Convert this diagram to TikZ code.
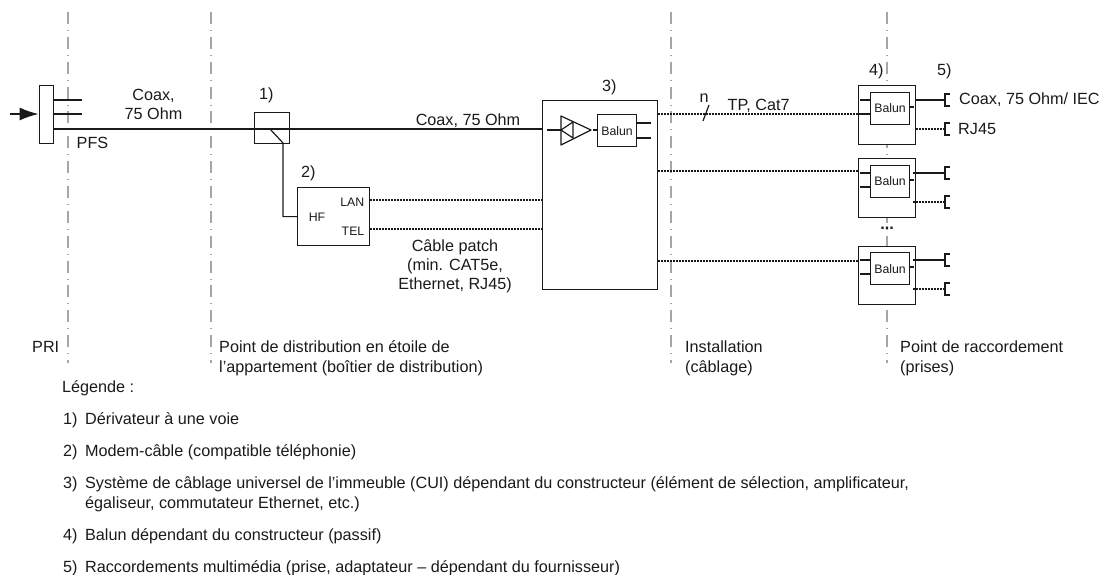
\documentclass[tikz,border=0pt]{standalone}
\usepackage{fontspec}
\setmainfont{Liberation Sans}
\usepackage{xcolor}
\usetikzlibrary{arrows.meta,positioning,calc}
\definecolor{axisGrey}{HTML}{A6A6A6}
\definecolor{wireBlack}{HTML}{1A1A1A}
\newcommand{\legnum}[1]{\makebox[22pt][l]{#1}}

\begin{document}
\begin{tikzpicture}[
  x=1pt,y=-1pt,
  box/.style={rectangle,draw=wireBlack,fill=white,line width=1.2pt,inner sep=0pt,anchor=north west},
  balun/.style={box,minimum width=39pt,minimum height=32pt,font=\fontsize{12.3}{14}\selectfont,text=wireBlack},
  outlet/.style={box,minimum width=57.5pt,minimum height=58.5pt},
  axis/.style={draw=axisGrey,line width=1.1pt,dash pattern=on 12pt off 6pt on 1pt off 5.85pt},
  wire/.style={draw=wireBlack,line width=1.2pt},
  dotwire/.style={draw=wireBlack,line width=1.1pt,dash pattern=on 2pt off 1pt},
  label/.style={font=\fontsize{16.2}{20}\selectfont,text=wireBlack,inner sep=0pt,anchor=base west},
  small/.style={font=\fontsize{12.3}{14}\selectfont,text=wireBlack,inner sep=0pt},
  arrow/.style={-{Latex[length=19pt,width=13pt]},wire}
]
\useasboundingbox (0,0) rectangle (1101,574);
% vertical axes
\coordinate (axisa) at (68,12);
\coordinate (axisb) at (211,12);
\coordinate (axisc) at (671,12);
\coordinate (axisd) at (887,12);
\draw[axis] (axisa) -- ++(0,351);
\draw[axis] (axisb) -- ++(0,351);
\draw[axis] (axisc) -- ++(0,351);
\draw[axis] (axisd) -- ++(0,351);

% boxes
\node[box,minimum width=14.5pt,minimum height=58pt] (entry) at (38.5,85) {};
\node[box,fill=none,minimum width=35pt,minimum height=31pt] (tap) at (254,112) {};
\node[box,minimum width=72pt,minimum height=58pt] (modem) at (297,187) {};
\node[box,minimum width=115.5pt,minimum height=189pt] (cui) at (541.5,100) {};
\node[balun] (baluncui) at (597,114) {Balun};
\node[outlet] (outa) at (857.5,85) {};
\node[outlet] (outb) at (857.5,158) {};
\node[outlet] (outc) at (857.5,245.5) {};
\node[balun] (baluna) at (870,91.5) {Balun};
\node[balun] (balunb) at (870,164.5) {Balun};
\node[balun] (balunc) at (870,252) {Balun};

% entry
\coordinate (feed) at (10,114);
\coordinate (stuba) at (82,100);
\coordinate (stubb) at (82,114);
\coordinate (trunk) at (53,129);
\draw[arrow] (feed) -- (feed -| entry.west);
\draw[wire] (stuba -| entry.east) -- (stuba);
\draw[wire] (stubb -| entry.east) -- (stubb);
\draw[wire] (trunk) -- (trunk -| cui.west);

% tap to modem
\coordinate (tapin) at (270,129);
\coordinate (tapout) at (283,143);
\coordinate (lanport) at (364,200);
\coordinate (telport) at (364,229);
\node[small,anchor=base] (hf) at (317,221.5) {HF};
\node[small,anchor=base east] (lan) at (364.5,206) {LAN};
\node[small,anchor=base east] (tel) at (364.5,235) {TEL};
\draw[wire] (tapin) -- (tapout) |- (modem.west);
\draw[dotwire] (lanport -| modem.east) -- (lanport -| cui.west);
\draw[dotwire] (telport -| modem.east) -- (telport -| cui.west);

% amplifier
\coordinate (ampa) at (561,116);
\coordinate (ampb) at (561,145);
\coordinate (ampc) at (591,130);
\coordinate (ampd) at (573,122);
\coordinate (ampe) at (573,138);
\coordinate (ampf) at (561,130);
\draw[wire,line join=round] (ampa) -- (ampc) -- (ampb) -- cycle;
\draw[wire,line join=round] (ampd) -- (ampf) -- (ampe) -- cycle;
\draw[wire] (547,130) -- (ampf);
\draw[wire] (593,130) -- (baluncui.west |- 0,130);
\draw[wire] (baluncui.east |- 0,123) -- ++(14,0);
\draw[wire] (baluncui.east |- 0,138) -- ++(14,0);

% lines to the outlets
\draw[dotwire] (cui.east |- 0,114) -- (baluna.west |- 0,114);
\draw[wire] (703,121) -- (709,105);
\draw[dotwire] (cui.east |- 0,171) -- (outb.west |- 0,171);
\draw[dotwire] (cui.east |- 0,261) -- (outc.west |- 0,261);

% outlets
\foreach \name/\ytop in {a/85,b/158,c/245}{
  \draw[wire] (balun\name.west |- 0,\ytop+15) -- ++(-10,0);
  \draw[wire] (balun\name.west |- 0,\ytop+29) -- ++(-10,0);
  \draw[wire] (balun\name.east |- 0,\ytop+22) -- ++(4,0);
}
\draw[wire] (outa.east |- 0,100) -- (945,100);
\draw[dotwire] (outa.east |- 0,129) -- (945,129);
\draw[wire] (913,173) -- (945,173);
\draw[dotwire] (913,202) -- (945,202);
\draw[wire] (913,260) -- (945,260);
\draw[dotwire] (913,289) -- (945,289);
\foreach \y in {100,129,173,202,260,289}{
  \draw[wire] (950,\y-6) -- (945,\y-6) -- (945,\y+6) -- (950,\y+6);
}

% labels
\node[label,anchor=base] (coaxa) at (153.5,100) {Coax,};
\node[label,anchor=base] (coaxb) at (153.5,119) {75 Ohm};
\node[label] (pfs) at (76.5,148) {PFS};
\node[label] (numa) at (259,99) {1)};
\node[label] (numb) at (301,177) {2)};
\node[label] (numc) at (602,91) {3)};
\node[label] (numd) at (869,75) {4)};
\node[label] (nume) at (937,75) {5)};
\node[label,anchor=base] (coaxc) at (468,125) {Coax, 75 Ohm};
\node[label] (nn) at (699.5,102) {n};
\node[label] (tp) at (727.5,110) {TP, Cat7};
\node[label] (iec) at (959,104) {Coax, 75 Ohm/ IEC};
\node[label] (rj) at (958,134) {RJ45};
\node[label,anchor=base] (patcha) at (455,251) {Câble patch};
\node[label,anchor=base] (patchb) at (455,270) {(min. CAT5e,};
\node[label,anchor=base] (patchc) at (455,289.5) {Ethernet, RJ45)};
\node[label,anchor=base,font=\fontsize{16.2}{20}\selectfont\bfseries] (more) at (887,229) {...};
\node[label] (pri) at (32,352) {PRI};
\node[label] (stara) at (219,352) {Point de distribution en étoile de};
\node[label] (starb) at (219,372) {l'appartement (boîtier de distribution)};
\node[label] (insta) at (685,352) {Installation};
\node[label] (instb) at (685,372) {(câblage)};
\node[label] (raccorda) at (900,352) {Point de raccordement};
\node[label] (raccordb) at (900,372) {(prises)};

% legend
\node[label] (legend) at (62,392) {Légende :};
\node[label] (lega) at (63,424) {\legnum{1)}Dérivateur à une voie};
\node[label] (legb) at (63,456) {\legnum{2)}Modem-câble (compatible téléphonie)};
\node[label] (legc) at (63,488) {\legnum{3)}Système de câblage universel de l'immeuble (CUI) dépendant du constructeur (élément de sélection, amplificateur,};
\node[label] (legcc) at (85,508) {égaliseur, commutateur Ethernet, etc.)};
\node[label] (legd) at (63,540) {\legnum{4)}Balun dépendant du constructeur (passif)};
\node[label] (lege) at (63,572) {\legnum{5)}Raccordements multimédia (prise, adaptateur – dépendant du fournisseur)};
\end{tikzpicture}
\end{document}
